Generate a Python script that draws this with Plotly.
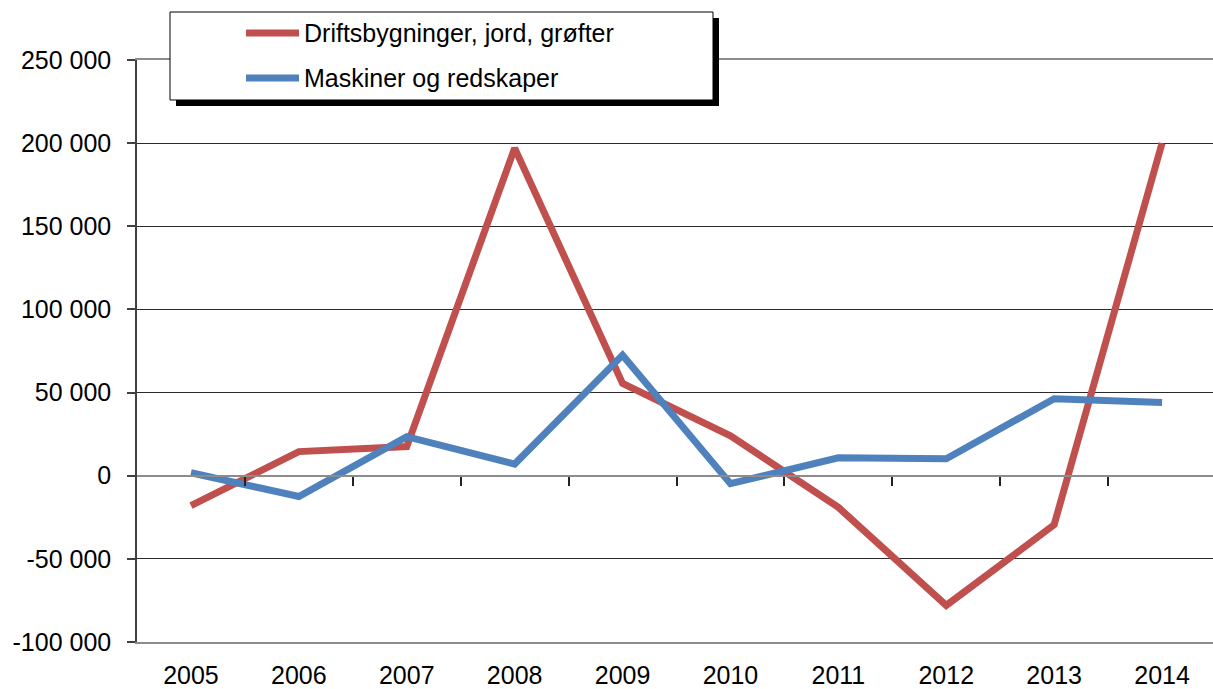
import plotly.graph_objects as go

years = ["2005", "2006", "2007", "2008", "2009", "2010", "2011", "2012", "2013", "2014"]
name_red = "Driftsbygninger, jord, grøfter"
name_blue = "Maskiner og redskaper"
driftsbygninger = [-18000, 14500, 17500, 197000, 55500, 24000, -19000, -78000, -29500, 200000]
maskiner = [1800, -12500, 23500, 7000, 72500, -4800, 10800, 10200, 46300, 44000]
y_ticks = [-100000, -50000, 0, 50000, 100000, 150000, 200000, 250000]
y_ticktext = ["-100 000", "-50 000", "0", "50 000", "100 000", "150 000", "200 000", "250 000"]

RED = "#C0504D"
BLUE = "#4F81BD"
FONT = "Liberation Sans, Arial, sans-serif"
FS = 25

W, H = 1213, 689
ML, MR, MT, MB = 137, 0, 60, 47
PW, PH = W - ML - MR, H - MT - MB
YMIN, YMAX = -100000, 250000
XR = [-0.5, -0.5 + PW / 107.9]


def px(x):
    return (x - ML) / PW


def py(y):
    return (H - MB - y) / PH


fig = go.Figure()
fig.add_trace(go.Scatter(x=years, y=driftsbygninger, mode="lines", name=name_red,
                         line=dict(color=RED, width=7), showlegend=False))
fig.add_trace(go.Scatter(x=years, y=maskiner, mode="lines", name=name_blue,
                         line=dict(color=BLUE, width=7), showlegend=False))
# dummy trace for the zero-line category tick axis
fig.add_trace(go.Scatter(x=[XR[0], XR[1]], y=[None, None], xaxis="x2", mode="lines",
                         showlegend=False, hoverinfo="skip"))

zero_pos = (0 - YMIN) / (YMAX - YMIN)

fig.update_layout(
    width=W, height=H,
    margin=dict(l=ML, r=MR, t=MT, b=MB, pad=0),
    paper_bgcolor="white", plot_bgcolor="white",
    font=dict(family=FONT, size=FS, color="black"),
    xaxis=dict(type="category", range=XR, showgrid=False, zeroline=False,
               showline=True, mirror=True, linecolor="#8c8c8c", linewidth=2,
               ticks="", tickfont=dict(size=FS), ticklabelstandoff=10),
    xaxis2=dict(overlaying="x", anchor="free", position=zero_pos, range=XR,
                showgrid=False, zeroline=False, showline=True, linecolor="#8c8c8c",
                linewidth=2, ticks="outside", ticklen=9, tickwidth=1.5, tickcolor="#222222",
                tickvals=[i + 0.5 for i in range(len(years))], showticklabels=False),
    yaxis=dict(range=[YMIN, YMAX], tickvals=y_ticks, ticktext=y_ticktext,
               showgrid=True, gridcolor="#2a2a2a", gridwidth=1, zeroline=False,
               showline=True, linecolor="#404040", linewidth=1.5,
               ticks="outside", ticklen=8, tickwidth=1.5, tickcolor="#404040",
               ticklabelstandoff=11, tickfont=dict(size=FS)),
)

# manual legend box with shadow
bx0, bx1, by0, by1 = 170, 713, 12, 100
sh = 6
fig.add_shape(type="rect", xref="paper", yref="paper",
              x0=px(bx0 + sh), x1=px(bx1 + sh), y0=py(by1 + sh), y1=py(by0 + sh),
              fillcolor="black", line=dict(width=0), layer="above")
fig.add_shape(type="rect", xref="paper", yref="paper",
              x0=px(bx0), x1=px(bx1), y0=py(by1), y1=py(by0),
              fillcolor="white", line=dict(color="black", width=1), layer="above")
for name, color, yy in [(name_red, RED, 33), (name_blue, BLUE, 78)]:
    fig.add_shape(type="line", xref="paper", yref="paper",
                  x0=px(246), x1=px(299), y0=py(yy), y1=py(yy),
                  line=dict(color=color, width=7), layer="above")
    fig.add_annotation(xref="paper", yref="paper", x=px(302), y=py(yy),
                       text=name, showarrow=False, xanchor="left", yanchor="middle",
                       font=dict(family=FONT, size=FS, color="black"))

fig.write_html("out.html", config={"displayModeBar": False},
               post_script="document.body.style.margin='0';")
